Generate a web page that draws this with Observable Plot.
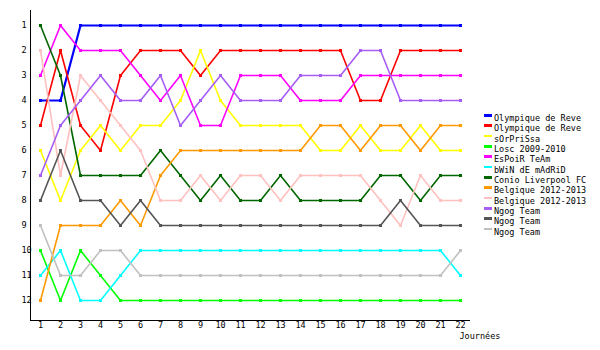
<!DOCTYPE html>
<html>
<head>
<meta charset="utf-8">
<script src="https://cdn.jsdelivr.net/npm/d3@7"></script>
<script src="https://cdn.jsdelivr.net/npm/@observablehq/plot@0.6"></script>
<style>
  html, body { margin: 0; padding: 0; background: #fff; }
  #wrap { position: relative; width: 600px; height: 350px; }
  #legend { position: absolute; left: 484px; top: 113px; font-family: "DejaVu Sans Mono", monospace; font-size: 8.5px; color: #000; }
  #legend .row { position: relative; height: 10.35px; line-height: 10.35px; white-space: nowrap; }
  #legend .sw { position: absolute; left: 0; top: 1px; width: 8px; height: 2.5px; }
  #legend .lb { position: absolute; left: 10px; top: 0; }
</style>
</head>
<body>
<div id="wrap"><div id="chart"></div><div id="legend"></div></div>
<script>
const days = [1,2,3,4,5,6,7,8,9,10,11,12,13,14,15,16,17,18,19,20,21,22];
const rankTicks = [1,2,3,4,5,6,7,8,9,10,11,12];
const xLabel = "Journées";

const teamNames = [
  "Olympique de Reve", "Olympique de Reve", "sOrPriSsa", "Losc 2009-2010",
  "EsPoiR TeAm", "bWiN dE mAdRiD", "Conio Liverpool FC", "Belgique 2012-2013",
  "Belgique 2012-2013", "Ngog Team", "Ngog Team", "Ngog Team"
];
const teamColors = [
  "#0000ff", "#ff0000", "#ffff00", "#00ff00",
  "#ff00ff", "#00ffff", "#006600", "#ff9900",
  "#ffc0c0", "#a55df5", "#555555", "#c0c0c0"
];

const rankBlue    = [4,4,1,1,1,1,1,1,1,1,1,1,1,1,1,1,1,1,1,1,1,1];
const rankRed     = [5,2,5,6,3,2,2,2,3,2,2,2,2,2,2,2,4,4,2,2,2,2];
const rankYellow  = [6,8,6,5,6,5,5,4,2,4,5,5,5,5,6,6,5,6,6,5,6,6];
const rankGreen   = [10,12,10,11,12,12,12,12,12,12,12,12,12,12,12,12,12,12,12,12,12,12];
const rankMagenta = [3,1,2,2,2,3,4,3,5,5,3,3,3,4,4,4,3,3,3,3,3,3];
const rankCyan    = [11,10,12,12,11,10,10,10,10,10,10,10,10,10,10,10,10,10,10,10,10,11];
const rankDkGreen = [1,3,7,7,7,7,6,7,8,7,8,8,7,8,8,8,8,7,7,8,7,7];
const rankOrange  = [12,9,9,9,8,9,7,6,6,6,6,6,6,6,5,5,6,5,5,6,5,5];
const rankPink    = [2,7,3,4,5,6,8,8,7,8,7,7,8,7,7,7,7,8,9,7,8,8];
const rankPurple  = [7,5,4,3,4,4,3,5,4,3,4,4,4,3,3,3,2,2,4,4,4,4];
const rankDkGray  = [8,6,8,8,9,8,9,9,9,9,9,9,9,9,9,9,9,9,8,9,9,9];
const rankLtGray  = [9,11,11,10,10,11,11,11,11,11,11,11,11,11,11,11,11,11,11,11,11,10];

const allRanks = [rankBlue, rankRed, rankYellow, rankGreen, rankMagenta, rankCyan,
  rankDkGreen, rankOrange, rankPink, rankPurple, rankDkGray, rankLtGray];

const rows = [];
allRanks.forEach((arr, s) => arr.forEach((r, i) => rows.push({series: s, day: days[i], rank: r})));

const marks = [];
allRanks.forEach((arr, s) => {
  const data = rows.filter(d => d.series === s);
  marks.push(Plot.line(data, {x: "day", y: "rank", stroke: teamColors[s], strokeWidth: s === 0 ? 2.2 : 1.6}));
  marks.push(Plot.dot(data, {x: "day", y: "rank", fill: teamColors[s], symbol: "square", r: 1.7, stroke: "none"}));
});

const chart = Plot.plot({
  width: 600,
  height: 350,
  marginLeft: 30,
  marginRight: 130,
  marginTop: 10,
  marginBottom: 30,
  style: {fontFamily: "DejaVu Sans Mono, monospace", fontSize: "8.5px", background: "#fff", color: "#000"},
  x: {domain: [0.5, 22.5]},
  y: {domain: [0.4, 12.8], reverse: true},
  marks: [
    ...marks,
    Plot.axisX({ticks: days, tickSize: 0, tickPadding: 1, label: null, tickFormat: d => String(d)}),
    Plot.axisY({ticks: rankTicks, tickSize: 0, tickPadding: 9, textAnchor: "start", label: null, tickFormat: d => String(d), style: {letterSpacing: "-0.6px"}}),
    Plot.ruleX([0.5], {y1: 0.4, y2: 12.8, stroke: "#000", strokeWidth: 1}),
    Plot.ruleY([12.8], {x1: 0.5, x2: 22.5, stroke: "#000", strokeWidth: 1}),
    Plot.text([xLabel], {frameAnchor: "bottom-right", textAnchor: "start", lineAnchor: "bottom", dx: -11, dy: 18, fontSize: 8.5})
  ]
});
document.getElementById("chart").appendChild(chart);

const legend = document.getElementById("legend");
teamNames.forEach((name, i) => {
  const row = document.createElement("div");
  row.className = "row";
  const sw = document.createElement("span");
  sw.className = "sw";
  sw.style.background = teamColors[i];
  const lb = document.createElement("span");
  lb.className = "lb";
  lb.textContent = name;
  row.appendChild(sw);
  row.appendChild(lb);
  legend.appendChild(row);
});
</script>
</body>
</html>
